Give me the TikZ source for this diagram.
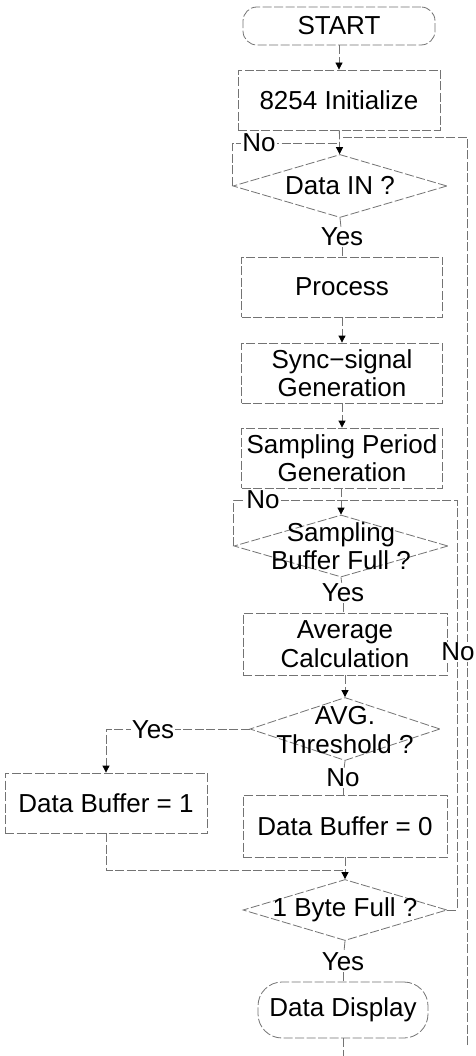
\documentclass[tikz,border=0pt]{standalone}
\usepackage{fontspec}
\setmainfont{Liberation Sans}
\usetikzlibrary{shapes.geometric,arrows.meta}
\begin{document}
\begin{tikzpicture}[x=1pt,y=-1pt,
  ln/.style={draw=black!55,line width=0.8pt,dash pattern=on 9pt off 2.5pt},
  box/.style={ln,rectangle,inner sep=0pt,align=center,font=\fontsize{26}{28.5}\selectfont},
  term/.style={box,rounded corners=14pt},
  dia/.style={ln,diamond,inner sep=0pt},
  txt/.style={inner sep=0pt,align=center,font=\fontsize{26}{28.5}\selectfont},
  lab/.style={txt,fill=white,inner sep=1pt},
  arr/.style={ln,-{Triangle[length=7pt,width=7pt,color=black,fill=black]}},
  con/.style={ln}
]
\useasboundingbox (0,0) rectangle (475,1056);
\fill[white] (0,0) rectangle (475,1056);

\node[term,minimum width=192pt,minimum height=38pt] (start) at (339,26) {START};
\node[box,minimum width=202pt,minimum height=60pt] (init) at (339,100) {8254 Initialize};

\node[dia,minimum width=214pt,minimum height=63pt] (d1) at (340,186) {};
\node[txt] (d1t) at (340,186) {Data IN ?};
\node[lab] (yes1) at (342,237) {Yes};

\node[box,minimum width=201pt,minimum height=60pt] (proc) at (342,287) {Process};
\node[box,minimum width=201pt,minimum height=60pt] (sync) at (342,373) {Sync−signal\\Generation};
\node[box,minimum width=201pt,minimum height=60pt] (sp) at (342,458) {Sampling Period\\Generation};

\node[dia,minimum width=214pt,minimum height=62pt] (d2) at (341,546) {};
\node[txt] (d2t) at (341,546) {Sampling\\Buffer Full ?};
\node[lab] (yes2) at (343,593) {Yes};

\node[box,minimum width=204pt,minimum height=62pt] (avg) at (345,644) {Average\\Calculation};

\node[dia,minimum width=190pt,minimum height=63pt] (d3) at (345,729) {};
\node[txt] (d3t) at (345,730) {AVG.\\Threshold ?};
\node[lab] (no3) at (343,778) {No};

\node[box,minimum width=204pt,minimum height=62pt] (db0) at (345,826) {Data Buffer = 0};
\node[box,minimum width=202pt,minimum height=60pt] (db1) at (106,803) {Data Buffer = 1};

\node[dia,minimum width=204pt,minimum height=61pt] (d4) at (345,910) {};
\node[txt] (d4t) at (345,910) {1 Byte Full ?};
\node[lab] (yes4) at (343,962) {Yes};

\node[term,rounded corners=24pt,minimum width=170pt,minimum height=56pt] (disp) at (343,1010) {Data Display};

% junction coordinates
\coordinate (j0) at (339,137);
\coordinate (j1) at (339,143);
\coordinate (j2) at (341,500);
\coordinate (j3) at (345,870);
\coordinate (rb) at (467,1045);
\coordinate (ir) at (457,910);
\coordinate (dend) at (343,1056);

% main flow
\draw[arr] (start) -- (init);
\draw[arr] (init) -- (d1);
\draw[con] (d1.south) -- (yes1);
\draw[con] (yes1) -- (proc);
\draw[arr] (proc) -- (sync);
\draw[arr] (sync) -- (sp);
\draw[arr] (sp.south -| j2) -- (d2.north);
\draw[con] (d2.south) -- (yes2);
\draw[con] (yes2) -- (avg.north -| yes2);
\draw[arr] (avg.south -| d3) -- (d3.north);
\draw[con] (d3.south) -- (no3);
\draw[con] (no3) -- (db0.north -| no3);
\draw[arr] (db0.south) -- (d4.north);
\draw[con] (d4.south) -- (yes4);
\draw[con] (yes4) -- (disp.north -| yes4);
\draw[con] (disp.south -| dend) -- (dend);

% loops
\draw[con] (d1.west) |- (j1);
\node[lab] (no1) at (259,143) {No};
\draw[con] (rb) |- (j0);
\draw[con] (d2.west) |- (j2);
\node[lab] (no2) at (263,500) {No};
\draw[con] (d4.east) -- (ir) |- (j2);
\node[lab] (no4) at (458,652) {No};

% AVG yes branch
\draw[arr] (d3.west) -| (db1.north);
\node[lab] (yes3) at (153,730) {Yes};
\draw[con] (db1.south) |- (j3);
\end{tikzpicture}
\end{document}
